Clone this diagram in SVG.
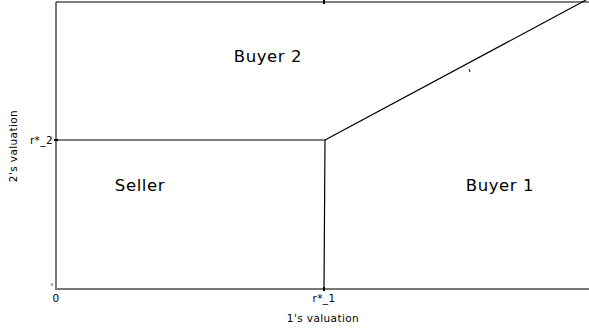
<svg xmlns="http://www.w3.org/2000/svg" width="589" height="331" viewBox="0 0 589 331">
<style>
.lbl{font-family:"DejaVu Sans","Liberation Sans",sans-serif;fill:#000}
.big{font-size:16.5px;text-anchor:middle;letter-spacing:0.6px}
.sm{font-size:10.5px;letter-spacing:0.4px}
.ln{stroke:#000;stroke-width:1.2;fill:none}
.ax{stroke:#777;stroke-width:2;fill:none}
</style>
<rect width="589" height="331" fill="#fff"/>
<g id="connectors">
<line class="ax" x1="56" y1="2" x2="56" y2="289"/>
<line class="ax" x1="55" y1="289" x2="589" y2="289"/>
<line class="ln" x1="56" y1="2" x2="589" y2="2"/>
<line class="ln" x1="56" y1="140" x2="325" y2="140"/>
<line class="ln" x1="325" y1="140" x2="324" y2="289"/>
<line class="ln" x1="325" y1="140" x2="586" y2="0"/>
<line stroke="#000" stroke-width="1" x1="469" y1="69" x2="470" y2="72"/>
<line stroke="#000" stroke-width="2" x1="324" y1="0" x2="324" y2="4"/>
<line stroke="#000" stroke-width="2" x1="54" y1="140" x2="58" y2="140"/>
<line stroke="#000" stroke-width="2" x1="324" y1="287" x2="324" y2="291"/>
</g>
<g id="buyer2"><text class="lbl big" x="268" y="62">Buyer 2</text></g>
<g id="seller"><text class="lbl big" x="140" y="191">Seller</text></g>
<g id="buyer1"><text class="lbl big" x="500" y="191">Buyer 1</text></g>
<g id="axis-labels">
<text class="lbl sm" x="53" y="144" text-anchor="end">r*_2</text>
<text class="lbl" x="53" y="286" font-size="4" fill="#888" text-anchor="end">0</text>
<text class="lbl sm" x="56" y="302" text-anchor="middle">0</text>
<text class="lbl sm" x="324" y="302" text-anchor="middle">r*_1</text>
<text class="lbl sm" x="323" y="322" text-anchor="middle">1's valuation</text>
<text class="lbl sm" transform="translate(17,146) rotate(-90)" text-anchor="middle">2's valuation</text>
</g>
</svg>
